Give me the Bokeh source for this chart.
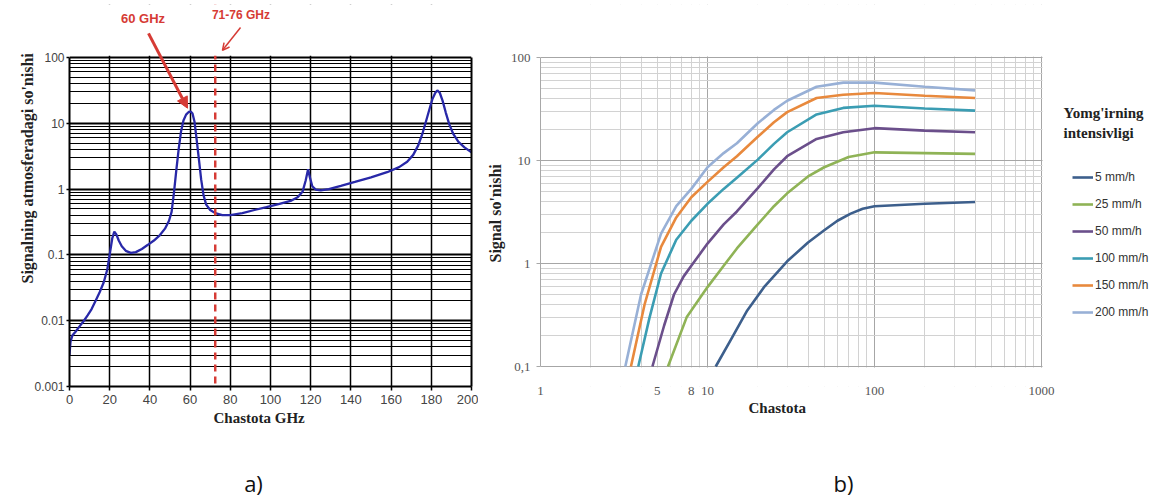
import math
from bokeh.plotting import figure
from bokeh.layouts import column, row
from bokeh.models import (FixedTicker, CustomJSTickFormatter, Span, Label, Arrow, NormalHead,
                          OpenHead, Range1d, BoxAnnotation, Legend, LegendItem, Title, LogAxis)
from bokeh.embed import file_html
from bokeh.resources import INLINE
from bokeh.core.properties import value

# ---------------- chart a data ----------------
atm_freq = [0, 0.5, 1.5, 3, 5, 7, 9, 11, 13, 15, 17, 18.8, 20.2, 21.3, 22.3, 23.3, 24.5,
            26, 28, 30.5, 33, 36, 39, 42, 45, 47.5, 49.5, 50.8, 52, 53.2, 54.3, 55.5,
            56.7, 58, 59.3, 60.3, 61.2, 62.2, 63.3, 64.4, 65.5, 66.7, 68, 70, 72.5, 76,
            80, 86, 92, 98, 104, 110, 113.5, 116, 117.5, 118.7, 119.6, 120.8, 122.5, 125,
            129, 135, 142, 150, 158, 164, 168, 171, 173.5, 175.5, 177.3, 179, 180.5, 182,
            183, 184.2, 185.6, 187.2, 189, 191, 193.5, 196.5, 200]
atm_loss = [0.003, 0.0048, 0.006, 0.0068, 0.0082, 0.0098, 0.012, 0.015, 0.02, 0.027,
            0.038, 0.06, 0.11, 0.18, 0.225, 0.205, 0.165, 0.135, 0.115, 0.107, 0.11,
            0.123, 0.142, 0.165, 0.2, 0.25, 0.33, 0.45, 0.9, 2.0, 4.0, 7.5, 11, 13.5,
            14.8, 15, 14, 10.5, 5.5, 2.8, 1.4, 0.8, 0.58, 0.48, 0.43, 0.4, 0.4, 0.43,
            0.48, 0.53, 0.59, 0.66, 0.75, 0.92, 1.35, 2.0, 1.5, 1.1, 0.98, 0.95, 1.0,
            1.12, 1.28, 1.5, 1.8, 2.15, 2.6, 3.3, 4.6, 6.8, 10.5, 16, 23, 29, 31.5, 29,
            22, 14.5, 9.5, 6.8, 5.2, 4.3, 3.6]
atm_xticks = [0, 20, 40, 60, 80, 100, 120, 140, 160, 180, 200]
atm_yticks = [0.001, 0.01, 0.1, 1, 10, 100]
band_freq = 72.5
label_60 = "60 GHz"
label_band = "71-76 GHz"
title_a_y = "Signalning atmosferadagi so'nishi"
title_a_x = "Chastota GHz"

# ---------------- chart b data ----------------
rain_labels = ["5 mm/h", "25 mm/h", "50 mm/h", "100 mm/h", "150 mm/h", "200 mm/h"]
rain_colors = ["#3d5f8c", "#8fb356", "#6b4f8b", "#3b9db3", "#e8893d", "#98b0d6"]
f_5 = [11.2, 14, 17.3, 22, 30, 40, 50, 60, 72, 85, 100, 200, 400]
v_5 = [0.1, 0.19, 0.35, 0.6, 1.05, 1.6, 2.1, 2.6, 3.05, 3.4, 3.6, 3.8, 3.95]
f_25 = [5.8, 7.5, 10, 12.5, 15, 20, 25, 30, 40, 50, 70, 100, 200, 400]
v_25 = [0.1, 0.30, 0.59, 0.95, 1.4, 2.4, 3.6, 4.8, 7.0, 8.6, 10.8, 12.0, 11.8, 11.6]
f_50 = [4.68, 5.5, 6.3, 7.2, 8, 10, 12.5, 15, 20, 25, 30, 45, 65, 100, 200, 400]
v_50 = [0.1, 0.25, 0.5, 0.75, 0.95, 1.56, 2.4, 3.2, 5.4, 8.2, 11.0, 16.2, 18.8, 20.6, 19.5, 18.8]
f_100 = [3.85, 4.5, 5.27, 6.5, 8, 10, 12.5, 15, 20, 25, 30, 45, 65, 100, 200, 400]
v_100 = [0.1, 0.3, 0.8, 1.7, 2.6, 3.8, 5.3, 6.8, 10.2, 14.5, 18.8, 28, 32.4, 34, 32, 30.5]
f_150 = [3.48, 4.2, 5.27, 6.5, 8, 10, 12.5, 15, 20, 25, 30, 45, 65, 100, 200, 400]
v_150 = [0.1, 0.4, 1.45, 2.8, 4.4, 6.2, 8.6, 11, 17, 23.5, 29.5, 40.4, 43.5, 45.2, 42.5, 40.4]
f_200 = [3.22, 4.0, 5.27, 6.5, 8, 10, 12.5, 15, 20, 25, 30, 45, 65, 100, 200, 400]
v_200 = [0.1, 0.5, 1.95, 3.6, 5.3, 8.6, 11.8, 14.7, 23, 31, 38, 52, 57, 57, 52, 48]
rain_freqs = [f_5, f_25, f_50, f_100, f_150, f_200]
rain_vals = [v_5, v_25, v_50, v_100, v_150, v_200]
rain_xticks = [1, 5, 8, 10, 100, 1000]
rain_yticks = [0.1, 1, 10, 100]
legend_title = ["Yomg'irning", "intensivligi"]
title_b_y = "Signal so'nishi"
title_b_x = "Chastota"
panel_labels = ["a)", "b)"]

RED = "#d63b35"
SERIF = "Liberation Serif"
SANS = "Liberation Sans"

# ---------------- figure a (frame extends above the chart to hold the annotations) -------
A_PX_DEC = 66.0
a_top = 100 * 10 ** (53 / A_PX_DEC)
pa = figure(width=478, height=440, x_range=Range1d(0, 200), y_range=Range1d(0.001, a_top),
            y_axis_type="log", output_backend="svg", toolbar_location=None,
            min_border_left=69, min_border_right=7, min_border_top=4, min_border_bottom=54)
pa.background_fill_color = "white"
pa.border_fill_color = "white"
pa.outline_line_color = None

pa.xaxis.ticker = FixedTicker(ticks=atm_xticks)
pa.yaxis.ticker = FixedTicker(ticks=atm_yticks,
                              minor_ticks=[m * 10.0 ** e for e in range(-3, 2) for m in range(2, 10)])
pa.yaxis.formatter = CustomJSTickFormatter(code="return tick.toString();")
pa.yaxis.bounds = (0.001, 100)
for ax in (pa.xaxis, pa.yaxis):
    ax.axis_line_color = "black"
    ax.axis_line_width = 2
    ax.major_tick_line_color = "black"
    ax.major_tick_line_width = 1.5
    ax.major_tick_in = 0
    ax.minor_tick_in = 0
    ax.minor_tick_out = 0
    ax.major_label_text_font = SANS
    ax.major_label_text_font_size = "13px"
    ax.major_label_text_color = "#444444"
pa.yaxis.major_label_text_font_size = "12px"
pa.yaxis.major_tick_out = 3
pa.yaxis.major_label_standoff = 2
pa.xaxis.major_tick_out = 4
pa.xaxis.major_label_standoff = 4

right_axis = LogAxis(ticker=FixedTicker(ticks=[]), bounds=(0.001, 100), axis_line_color="black",
                     axis_line_width=2, major_tick_out=0, major_tick_in=0, minor_tick_out=0,
                     minor_tick_in=0, major_label_standoff=0)
pa.add_layout(right_axis, "right")

pa.xgrid.grid_line_color = "black"
pa.xgrid.grid_line_width = 1.5
pa.ygrid.grid_line_color = "black"
pa.ygrid.grid_line_width = 2.2
pa.ygrid.minor_grid_line_color = "black"
pa.ygrid.minor_grid_line_width = 1.2

pa.line(atm_freq, atm_loss, line_color="#2828a8", line_width=2.3)
pa.add_layout(Span(location=band_freq, dimension="height", line_color=RED,
                   line_width=2.5, line_dash="7 5"))
# white cover above the chart area
pa.add_layout(BoxAnnotation(bottom=100 * 10 ** (1.6 / A_PX_DEC), fill_color="white",
                            fill_alpha=1, line_color=None))

pa.add_layout(Label(x=36.6, y=390, text=label_60, text_font=SANS, text_font_style="bold",
                    text_font_size="13px", text_color=RED, text_align="center",
                    text_baseline="middle"))
pa.add_layout(Arrow(x_start=39.3, y_start=231, x_end=58.7, y_end=16.9,
                    line_color=RED, line_width=3,
                    end=NormalHead(size=11, fill_color=RED, line_color=RED)))
pa.add_layout(Label(x=85.3, y=440, text=label_band, text_font=SANS, text_font_style="bold",
                    text_font_size="12px", text_color=RED, text_align="center",
                    text_baseline="middle"))
pa.add_layout(Arrow(x_start=85.1, y_start=285, x_end=76.1, y_end=128,
                    line_color=RED, line_width=1.5,
                    end=OpenHead(size=7, line_color=RED, line_width=1.5)))

pa.add_layout(Title(text=title_a_y, align="left", offset=103, standoff=-8, text_font=SERIF,
                    text_font_style="bold", text_font_size="16px", text_color="#222222"), "left")
pa.add_layout(Title(text=title_a_x, align="left", offset=144, standoff=3, text_font=SERIF,
                    text_font_style="bold", text_font_size="15px", text_color="#222222"), "below")

# ---------------- figure b (frame extends right/up/down, covered outside the chart) --------
B_PX_DEC_Y = 103.0
B_PX_DEC_X = 167.0
b_bottom = 0.1 / 10 ** (20 / B_PX_DEC_Y)
b_top = 100 * 10 ** (53 / B_PX_DEC_Y)
b_right = 1000 * 10 ** (111 / B_PX_DEC_X)
pb = figure(width=674, height=440, x_range=Range1d(1, b_right), y_range=Range1d(b_bottom, b_top),
            x_axis_type="log", y_axis_type="log", output_backend="svg", toolbar_location=None,
            min_border_left=62, min_border_right=0, min_border_top=4, min_border_bottom=54)
pb.background_fill_color = "white"
pb.border_fill_color = "white"
pb.outline_line_color = None

pb.xaxis.ticker = FixedTicker(ticks=rain_xticks)
pb.yaxis.ticker = FixedTicker(ticks=rain_yticks)
pb.xaxis.formatter = CustomJSTickFormatter(code="return tick.toString();")
pb.yaxis.formatter = CustomJSTickFormatter(
    code="return tick < 1 ? tick.toString().replace('.', ',') : tick.toString();")
pb.yaxis.bounds = (0.1, 100)
for ax in (pb.xaxis, pb.yaxis):
    ax.axis_line_color = "#a8a8a8"
    ax.axis_line_width = 1
    ax.major_tick_line_color = "#a8a8a8"
    ax.major_tick_in = 0
    ax.minor_tick_in = 0
    ax.minor_tick_out = 0
    ax.major_label_text_font = SERIF
    ax.major_label_text_font_size = "13px"
    ax.major_label_text_color = "#555555"
pb.xaxis.axis_line_color = None
pb.yaxis.major_tick_out = 4
pb.yaxis.major_label_standoff = 6
pb.xaxis.major_tick_out = 0
pb.xaxis.major_label_standoff = 0

major_x = [1, 10, 100, 1000]
major_y = [0.1, 1, 10, 100]
pb.xgrid.ticker = FixedTicker(ticks=major_x,
                              minor_ticks=[m * 10.0 ** e for e in range(0, 3) for m in range(2, 10)])
pb.ygrid.ticker = FixedTicker(ticks=major_y,
                              minor_ticks=[m * 10.0 ** e for e in range(-1, 2) for m in range(2, 10)])
for g in (pb.xgrid, pb.ygrid):
    g.grid_line_color = "#a6a6a6"
    g.grid_line_width = 1
    g.minor_grid_line_color = "#d2d2d2"
    g.minor_grid_line_width = 1

rain_renderers = []
for col, fr, vv in zip(rain_colors, rain_freqs, rain_vals):
    rain_renderers.append(pb.line(fr, vv, line_color=col, line_width=2.6))

# white covers around the chart area
pb.add_layout(BoxAnnotation(bottom=100 * 10 ** (1 / B_PX_DEC_Y), fill_color="white",
                            fill_alpha=1, line_color=None))
pb.add_layout(BoxAnnotation(top=0.1 / 10 ** (1 / B_PX_DEC_Y), fill_color="white",
                            fill_alpha=1, line_color=None))
pb.add_layout(BoxAnnotation(left=1000 * 10 ** (1 / B_PX_DEC_X), fill_color="white",
                            fill_alpha=1, line_color=None))

legend = Legend(items=[LegendItem(label=lab, renderers=[r])
                       for lab, r in zip(rain_labels, rain_renderers)],
                location=(532, 64), padding=0, margin=0, spacing=7, glyph_width=21,
                glyph_height=20, label_height=20, label_standoff=2, border_line_color=None,
                background_fill_alpha=0, label_text_font=SANS,
                label_text_font_size="12px", label_text_color="#333333")
pb.add_layout(legend)

pb.add_layout(Label(x=1355, y=28.6, text=legend_title[0], text_font=SERIF,
                    text_font_style="bold", text_font_size="15px", text_color="#222222",
                    text_align="left", text_baseline="middle"))
pb.add_layout(Label(x=1355, y=18.3, text=legend_title[1], text_font=SERIF,
                    text_font_style="bold", text_font_size="15px", text_color="#222222",
                    text_align="left", text_baseline="middle"))

pb.add_layout(Title(text=title_b_y, align="left", offset=124, standoff=8, text_font=SERIF,
                    text_font_style="bold", text_font_size="16px", text_color="#222222"), "left")
pb.add_layout(Title(text=title_b_x, align="left", offset=208, standoff=0, text_font=SERIF,
                    text_font_style="bold", text_font_size="15px", text_color="#222222"), "below")

# ---------------- bottom strip with panel labels ----------------
pc = figure(width=1152, height=57, x_range=Range1d(0, 1152), y_range=Range1d(0, 57),
            output_backend="svg", toolbar_location=None, min_border=0)
pc.axis.visible = False
pc.grid.visible = False
pc.outline_line_color = None
pc.background_fill_color = "white"
pc.border_fill_color = "white"
pc.text(x=[253, 843], y=[15, 15], text=panel_labels, text_font=value("Open Sans"),
        text_font_size="22px", text_color="#111111", text_align="center",
        text_baseline="middle")

layout = column(row(pa, pb), pc)
open("out.html", "w").write(file_html(layout, INLINE))
